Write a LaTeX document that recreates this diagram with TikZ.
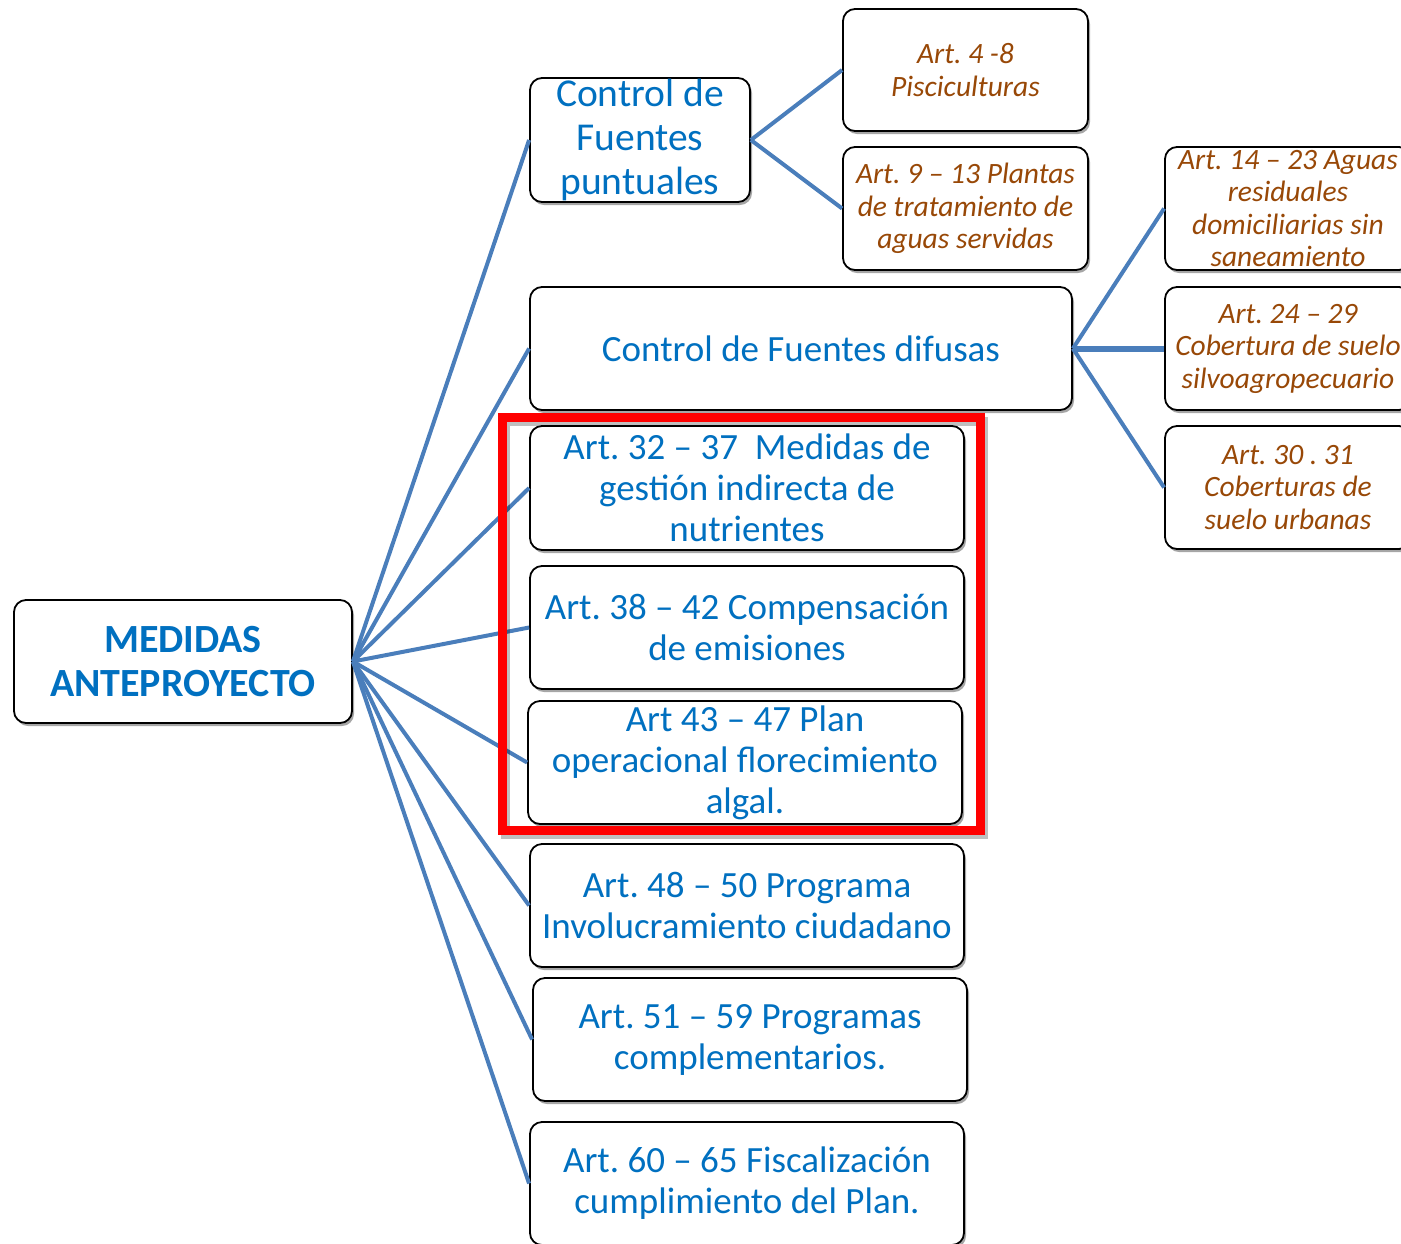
\documentclass[tikz,border=0pt]{standalone}
\usepackage{fontspec}
\setmainfont{Carlito}
\usetikzlibrary{shadows}
\frenchspacing
\definecolor{txtblue}{HTML}{0070C0}
\definecolor{txtbrown}{HTML}{984807}
\definecolor{linkblue}{HTML}{4A7EBB}
\tikzset{
  box/.style={draw=black, line width=1.8pt, rounded corners=12pt, fill=white,
    drop shadow={shadow xshift=2pt, shadow yshift=-3pt, opacity=0.35, fill=black},
    inner sep=0pt, align=center, anchor=center},
  bluetext/.style={text=txtblue, font=\fontsize{37}{41}\selectfont},
  bigtext/.style={text=txtblue, font=\fontsize{39.5}{44}\selectfont},
  browntext/.style={text=txtbrown, font=\fontsize{29.5}{32.5}\selectfont\itshape},
  link/.style={draw=linkblue, line width=4pt},
  frame/.style={draw=red, line width=9pt, minimum width=478pt, minimum height=413pt, inner sep=0pt},
}
\begin{document}
\begin{tikzpicture}[x=1pt,y=-1pt]
\useasboundingbox (0,0) rectangle (1401,1243);
% boxes
\node[box, text=txtblue, font=\fontsize{40}{44}\selectfont\bfseries, minimum width=338pt, minimum height=123pt] (med) at (183,661.5) {MEDIDAS\\ANTEPROYECTO};
\node[box, bigtext, minimum width=220pt, minimum height=124pt] (pun) at (640,140) {Control de\\Fuentes\\puntuales};
\node[box, browntext, minimum width=245pt, minimum height=122pt] (a4) at (965.5,70) {Art. 4 -8\\Pisciculturas};
\node[box, browntext, minimum width=245pt, minimum height=123pt] (a9) at (965.5,208.5) {Art. 9 -- 13 Plantas\\de tratamiento de\\aguas servidas};
\node[box, bluetext, minimum width=542pt, minimum height=123pt] (dif) at (801,348.5) {Control de Fuentes difusas};
\node[box, browntext, minimum width=246pt, minimum height=123pt] (a14) at (1288,208.5) {Art. 14 -- 23 Aguas\\residuales\\domiciliarias sin\\saneamiento};
\node[box, browntext, minimum width=246pt, minimum height=123pt] (a24) at (1288,348.5) {Art. 24 -- 29\\Cobertura de suelo\\silvoagropecuario};
\node[box, browntext, minimum width=246pt, minimum height=123pt] (a30) at (1288,487.5) {Art. 30 . 31\\Coberturas de\\suelo urbanas};
\node[box, bluetext, minimum width=434pt, minimum height=124pt] (a32) at (747,488) {Art. 32 -- 37\ \ Medidas de\\gestión indirecta de\\nutrientes};
\node[box, bluetext, minimum width=434pt, minimum height=123pt] (a38) at (747,627.5) {Art. 38 -- 42 Compensación\\de emisiones};
\node[box, bluetext, minimum width=434pt, minimum height=123pt] (a43) at (745,762.5) {Art 43 -- 47 Plan\\operacional florecimiento\\algal.};
\node[box, bluetext, minimum width=434pt, minimum height=123pt] (a48) at (747,905.5) {Art. 48 -- 50 Programa\\Involucramiento ciudadano};
\node[box, bluetext, minimum width=434pt, minimum height=123pt] (a51) at (750,1039.5) {Art. 51 -- 59 Programas\\complementarios.};
\node[box, bluetext, minimum width=434pt, minimum height=123pt] (a60) at (747,1183.5) {Art. 60 -- 65 Fiscalización\\cumplimiento del Plan.};
% connectors
\foreach \t in {pun,dif,a32,a38,a43,a48,a51,a60}{
  \draw[link] (med.east) -- (\t.west);
}
\draw[link] (pun.east) -- (a4.west);
\draw[link] (pun.east) -- (a9.west);
\draw[link] (dif.east) -- (a14.west);
\draw[link, line width=6pt] (dif.east) -- (a24.west);
\draw[link] (dif.east) -- (a30.west);
% highlight frame with its shadow
\node[frame, draw=black, draw opacity=0.25] (hlshadow) at (744,627.5) {};
\node[frame] (hl) at (741.5,624) {};
\end{tikzpicture}
\end{document}
